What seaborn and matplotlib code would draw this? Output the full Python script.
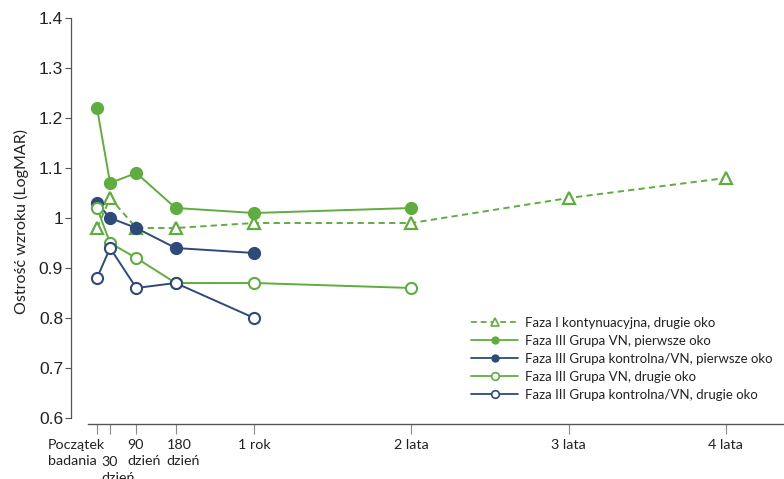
import matplotlib
matplotlib.use("Agg")
import matplotlib.pyplot as plt
import seaborn as sns
from matplotlib.lines import Line2D
from matplotlib.transforms import blended_transform_factory

# ---- data (time in months) ----
months_faza1 = [0, 1, 3, 6, 12, 24, 36, 48]
faza1_drugie = [0.98, 1.04, 0.98, 0.98, 0.99, 0.99, 1.04, 1.08]

months_vn = [0, 1, 3, 6, 12, 24]
vn_pierwsze = [1.22, 1.07, 1.09, 1.02, 1.01, 1.02]
vn_drugie = [1.02, 0.95, 0.92, 0.87, 0.87, 0.86]

months_kontr = [0, 1, 3, 6, 12]
kontr_pierwsze = [1.03, 1.00, 0.98, 0.94, 0.93]
kontr_drugie = [0.88, 0.94, 0.86, 0.87, 0.80]

labels = [
    "Faza I kontynuacyjna, drugie oko",
    "Faza III Grupa VN, pierwsze oko",
    "Faza III Grupa kontrolna/VN, pierwsze oko",
    "Faza III Grupa VN, drugie oko",
    "Faza III Grupa kontrolna/VN, drugie oko",
]

tick_pos = [0, 1, 3, 6, 12, 24, 36, 48]
tick_text = ["Początek\nbadania", "30\ndzień", "90\ndzień", "180\ndzień",
             "1 rok", "2 lata", "3 lata", "4 lata"]
y_ticks = [0.6, 0.7, 0.8, 0.9, 1.0, 1.1, 1.2, 1.3, 1.4]
y_tick_text = ["0.6", "0.7", "0.8", "0.9", "1", "1.1", "1.2", "1.3", "1.4"]

GREEN = "#5fad3f"
NAVY = "#2d4a7a"

sns.set_theme(style="white")
plt.rcParams["font.family"] = ["Lato", "DejaVu Sans"]

fig = plt.figure(figsize=(7.84, 4.79), dpi=100)
ax = fig.add_axes([88 / 784, 55 / 479, 1 - 88 / 784, (424 - 18) / 479])

common = dict(linewidth=1.4, markersize=8, markeredgewidth=1.5)

sns.lineplot(x=months_faza1, y=faza1_drugie, ax=ax, color=GREEN, marker="^",
             linestyle=(0, (3.2, 2.2)), markerfacecolor="white",
             markeredgecolor=GREEN, linewidth=1.4, markersize=9,
             markeredgewidth=1.6, zorder=3)
sns.lineplot(x=months_vn, y=vn_pierwsze, ax=ax, color=GREEN, marker="o",
             markerfacecolor=GREEN, markeredgecolor=GREEN, zorder=4, **common)
sns.lineplot(x=months_kontr, y=kontr_pierwsze, ax=ax, color=NAVY, marker="o",
             markerfacecolor=NAVY, markeredgecolor=NAVY, zorder=4, **common)
sns.lineplot(x=months_vn, y=vn_drugie, ax=ax, color=GREEN, marker="o",
             markerfacecolor="white", markeredgecolor=GREEN, zorder=5, **common)
sns.lineplot(x=months_kontr, y=kontr_drugie, ax=ax, color=NAVY, marker="o",
             markerfacecolor="white", markeredgecolor=NAVY, zorder=5, **common)

ax.set_xlim(-9 / 13.1, (784 - 97) / 13.1)
ax.set_ylim(0.6 - 6 / 500, 1.4)

for s in ["top", "right"]:
    ax.spines[s].set_visible(False)
spine_col = "#555555"
ax.spines["left"].set_position(("outward", 12))
ax.spines["left"].set_bounds(0.6, 1.4)
ax.spines["left"].set_color(spine_col)
ax.spines["left"].set_linewidth(0.9)
ax.spines["bottom"].set_color(spine_col)
ax.spines["bottom"].set_linewidth(1.0)

ax.set_yticks(y_ticks)
ax.set_yticklabels(y_tick_text, fontfamily="Liberation Sans", fontsize=12.5,
                   color="#222222")
ax.tick_params(axis="y", direction="out", length=4, width=0.8, color=spine_col,
               pad=2, left=True)
ax.set_xticks(tick_pos)
ax.set_xticklabels([""] * len(tick_pos))
ax.tick_params(axis="x", direction="out", length=7, width=0.8, color="#888888",
               bottom=True)

ax.set_ylabel("Ostrość wzroku (LogMAR)", fontsize=11.5, color="#222222",
              labelpad=7)
ax.set_xlabel("")

# x tick labels placed with offsets (as in the reference)
trans = blended_transform_factory(ax.transData, ax.transAxes)
px = 72 / 100  # points per pixel
offsets = {0: (-49, -15, "left"), 1: (-9, -32, "left"),
           3: (-9, -15, "left"), 6: (-9, -15, "left")}
for pos, txt in zip(tick_pos, tick_text):
    dx, dy, ha = offsets.get(pos, (0, -15, "center"))
    ax.annotate(txt, xy=(pos, 0), xycoords=trans,
                xytext=(dx * px, dy * px), textcoords="offset points",
                ha=ha, va="top", multialignment="left",
                fontsize=10.3, color="#222222", linespacing=1.4,
                annotation_clip=False)

# legend
handles = [
    Line2D([], [], color=GREEN, linestyle=(0, (3.2, 2.2)), linewidth=1.3,
           marker="^", markersize=6, markerfacecolor="white",
           markeredgecolor=GREEN, markeredgewidth=1.2),
    Line2D([], [], color=GREEN, linewidth=1.3, marker="o", markersize=5,
           markerfacecolor=GREEN, markeredgecolor=GREEN),
    Line2D([], [], color=NAVY, linewidth=1.3, marker="o", markersize=5,
           markerfacecolor=NAVY, markeredgecolor=NAVY),
    Line2D([], [], color=GREEN, linewidth=1.3, marker="o", markersize=5.5,
           markerfacecolor="white", markeredgecolor=GREEN, markeredgewidth=1.2),
    Line2D([], [], color=NAVY, linewidth=1.3, marker="o", markersize=5.5,
           markerfacecolor="white", markeredgecolor=NAVY, markeredgewidth=1.2),
]
leg = fig.legend(handles, labels, loc="upper left",
                 bbox_to_anchor=(459 / 784, 1 - 305 / 479), frameon=False,
                 fontsize=9.5, handlelength=3.6, handletextpad=0.5,
                 labelspacing=0.45, numpoints=1)
for t in leg.get_texts():
    t.set_color("#222222")

fig.savefig("out.png", dpi=100)
